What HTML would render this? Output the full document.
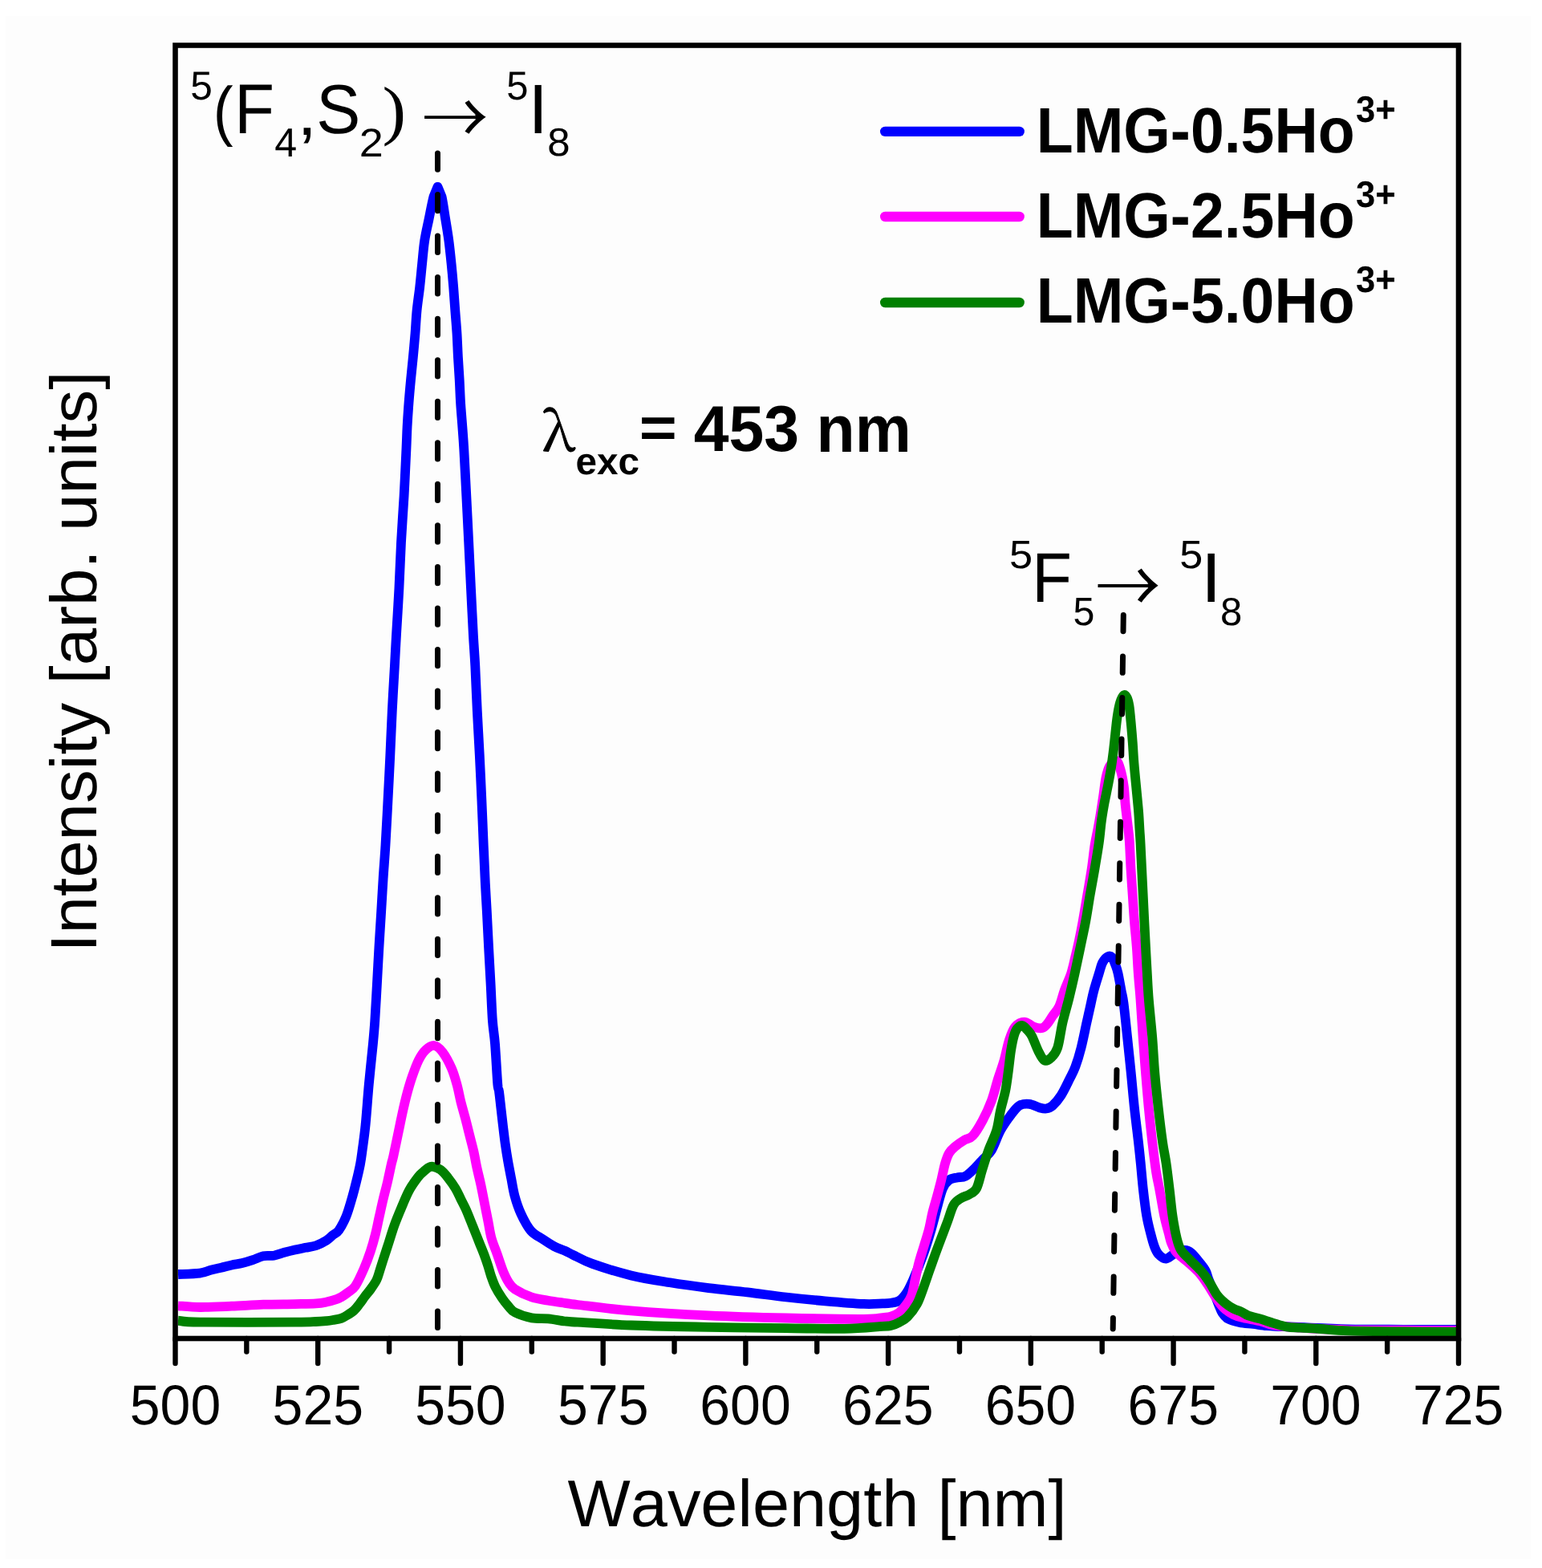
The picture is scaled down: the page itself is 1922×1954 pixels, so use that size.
<!DOCTYPE html>
<html><head><meta charset="utf-8"><title>Luminescence spectra</title><style>html,body{margin:0;padding:0;background:#ffffff;width:1922px;height:1954px;overflow:hidden}</style></head><body>
<svg width="1922" height="1954" viewBox="0 0 1922 1954" style="display:block;font-kerning:none;text-rendering:geometricPrecision"><rect x="0" y="0" width="1922" height="1954" fill="#ffffff"/>
<rect x="7" y="20" width="1901" height="1923" fill="#fdfdfd"/>
<defs><clipPath id="pa"><rect x="222" y="60" width="1593" height="1605"/></clipPath></defs>
<g clip-path="url(#pa)" fill="none" stroke-width="11.8" stroke-linejoin="round" stroke-linecap="butt">
<path stroke="#0000ff" d="M222 1588 C226.5 1587.77 242.25 1587.48 249 1586.6 C255.75 1585.72 258.05 1583.83 262.5 1582.7 C266.95 1581.57 271.32 1580.83 275.7 1579.8 C280.08 1578.77 284.43 1577.45 288.8 1576.5 C293.17 1575.55 297.53 1575.15 301.9 1574.1 C306.27 1573.05 310.62 1571.67 315 1570.2 C319.38 1568.73 323.82 1566.22 328.2 1565.3 C332.58 1564.38 336.93 1565.45 341.3 1564.7 C345.67 1563.95 350.02 1562 354.4 1560.8 C358.78 1559.6 363.22 1558.5 367.6 1557.5 C371.98 1556.5 376.33 1555.68 380.7 1554.8 C385.07 1553.92 389.42 1553.72 393.8 1552.2 C398.18 1550.68 403.47 1547.9 407 1545.7 C410.53 1543.5 412.47 1541.07 415 1539 C417.53 1536.93 419.47 1537.13 422.2 1533.3 C424.93 1529.47 428.7 1522.52 431.4 1516 C434.1 1509.48 436.28 1501.45 438.4 1494.2 C440.52 1486.95 442.33 1479.73 444.1 1472.5 C445.87 1465.27 447.72 1457.55 449 1450.8 C450.28 1444.05 450.7 1440.18 451.8 1432 C452.9 1423.82 454.27 1415.15 455.6 1401.7 C456.93 1388.25 458.25 1368.12 459.8 1351.3 C461.35 1334.48 463.65 1314.05 464.9 1300.8 C466.15 1287.55 466.47 1284.2 467.3 1271.8 C468.13 1259.4 469.05 1241.55 469.9 1226.4 C470.75 1211.25 471.52 1196.05 472.4 1180.9 C473.28 1165.75 474.33 1149.82 475.2 1135.5 C476.07 1121.18 476.72 1108.75 477.6 1095 C478.48 1081.25 479.52 1069.28 480.5 1053 C481.48 1036.72 482.53 1015.88 483.5 997.3 C484.47 978.72 485.42 960.08 486.3 941.5 C487.18 922.92 487.87 904.38 488.8 885.8 C489.73 867.22 491.03 845.73 491.9 830 C492.77 814.27 493.08 807.48 494 791.4 C494.92 775.32 496.4 752.78 497.4 733.5 C498.4 714.22 498.97 694.98 500 675.7 C501.03 656.42 502.53 637.05 503.6 617.8 C504.67 598.55 505.73 574.62 506.4 560.2 C507.07 545.78 507.08 540.93 507.6 531.3 C508.12 521.67 508.77 512.03 509.5 502.4 C510.23 492.77 511.1 483.13 512 473.5 C512.9 463.87 513.98 454.25 514.9 444.6 C515.82 434.95 516.72 425.25 517.5 415.6 C518.28 405.95 518.65 396.33 519.6 386.7 C520.55 377.07 522.12 367.43 523.2 357.8 C524.28 348.17 525.1 338.53 526.1 328.9 C527.1 319.27 527.78 309.32 529.2 300 C530.62 290.68 532.72 282.17 534.6 273 C536.48 263.83 538.68 251.7 540.5 245 L545.5 232.8 L550.5 245 C552.12 251.7 553.72 263.83 555.2 273 C556.68 282.17 558.17 290.68 559.4 300 C560.63 309.32 561.63 319.27 562.6 328.9 C563.57 338.53 564.42 348.17 565.2 357.8 C565.98 367.43 566.58 377.07 567.3 386.7 C568.02 396.33 568.9 405.95 569.5 415.6 C570.1 425.25 570.37 434.95 570.9 444.6 C571.43 454.25 572.17 463.87 572.7 473.5 C573.23 483.13 573.5 492.77 574.1 502.4 C574.7 512.03 575.6 521.67 576.3 531.3 C577 540.93 577.47 545.78 578.3 560.2 C579.13 574.62 580.32 598.55 581.3 617.8 C582.28 637.05 583.25 656.42 584.2 675.7 C585.15 694.98 586.05 714.22 587 733.5 C587.95 752.78 589.02 775.32 589.9 791.4 C590.78 807.48 591.48 814.27 592.3 830 C593.12 845.73 593.88 867.22 594.8 885.8 C595.72 904.38 596.87 922.92 597.8 941.5 C598.73 960.08 599.58 978.72 600.4 997.3 C601.22 1015.88 601.97 1035.9 602.7 1053 C603.43 1070.1 604.12 1086.15 604.8 1099.9 C605.48 1113.65 606.08 1122 606.8 1135.5 C607.52 1149 608.3 1165.75 609.1 1180.9 C609.9 1196.05 610.8 1211.25 611.6 1226.4 C612.4 1241.55 613 1259.4 613.9 1271.8 C614.8 1284.2 615.93 1287.55 617 1300.8 C618.07 1314.05 619.47 1341.43 620.3 1351.3 C621.13 1361.17 621.3 1354.93 622 1360 C622.7 1365.07 623.67 1374.47 624.5 1381.7 C625.33 1388.93 626.13 1396.17 627 1403.4 C627.87 1410.63 628.68 1417.87 629.7 1425.1 C630.72 1432.33 631.85 1439.57 633.1 1446.8 C634.35 1454.03 635.8 1461.27 637.2 1468.5 C638.6 1475.73 639.52 1482.97 641.5 1490.2 C643.48 1497.43 645.75 1504.67 649.1 1511.9 C652.45 1519.13 656.98 1528.18 661.6 1533.6 C666.22 1539.02 671.92 1541.12 676.8 1544.4 C681.68 1547.68 686.37 1550.92 690.9 1553.3 C695.43 1555.68 700.1 1556.95 704 1558.7 C707.9 1560.45 708.58 1561.1 714.3 1563.8 C720.02 1566.5 726.25 1570.63 738.3 1574.9 C750.35 1579.17 770.48 1585.5 786.6 1589.4 C802.72 1593.3 818.88 1595.68 835 1598.3 C851.12 1600.92 867.2 1603.08 883.3 1605.1 C899.4 1607.12 915.5 1608.5 931.6 1610.4 C947.7 1612.3 963.8 1614.68 979.9 1616.5 C996 1618.32 1012.08 1619.9 1028.2 1621.3 C1044.32 1622.7 1064.63 1624.38 1076.6 1624.9 C1088.57 1625.42 1094.38 1624.6 1100 1624.4 C1105.62 1624.2 1106.85 1624.27 1110.3 1623.7 C1113.75 1623.13 1117.42 1623.12 1120.7 1621 C1123.98 1618.88 1127.05 1615.45 1130 1611 C1132.95 1606.55 1134.93 1602.25 1138.4 1594.3 C1141.87 1586.35 1147.08 1573.63 1150.8 1563.3 C1154.52 1552.97 1157.67 1542.63 1160.7 1532.3 C1163.73 1521.97 1166.58 1509.9 1169 1501.3 C1171.42 1492.7 1172.87 1485.83 1175.2 1480.7 C1177.53 1475.57 1180.03 1472.72 1183 1470.5 C1185.97 1468.28 1189.62 1468.2 1193 1467.4 C1196.38 1466.6 1199.67 1467.62 1203.3 1465.7 C1206.93 1463.78 1211.18 1459.35 1214.8 1455.9 C1218.42 1452.45 1221.48 1448.73 1225 1445 C1228.52 1441.27 1232.23 1439.53 1235.9 1433.5 C1239.57 1427.47 1243.08 1416.02 1247 1408.8 C1250.92 1401.58 1255.47 1395.37 1259.4 1390.2 C1263.33 1385.03 1266.67 1380.18 1270.6 1377.8 C1274.53 1375.42 1278.87 1375.5 1283 1375.9 C1287.13 1376.3 1291.9 1379.27 1295.4 1380.2 C1298.9 1381.13 1301.27 1381.87 1304 1381.5 C1306.73 1381.13 1308.7 1380.75 1311.8 1378 C1314.9 1375.25 1319.02 1370.6 1322.6 1365 C1326.18 1359.4 1330.33 1350.35 1333.3 1344.4 C1336.27 1338.45 1338.02 1335.77 1340.4 1329.3 C1342.78 1322.83 1345.27 1314.72 1347.6 1305.6 C1349.93 1296.48 1352.58 1282.83 1354.4 1274.6 C1356.22 1266.37 1357 1262.88 1358.5 1256.2 C1360 1249.52 1361.5 1241.73 1363.4 1234.5 C1365.3 1227.27 1368.13 1218.55 1369.9 1212.8 C1371.67 1207.05 1372.32 1203.38 1374 1200 C1375.68 1196.62 1378 1193.67 1380 1192.5 C1382 1191.33 1384.25 1191.25 1386 1193 C1387.75 1194.75 1389.25 1199.7 1390.5 1203 C1391.75 1206.3 1392.32 1207.55 1393.5 1212.8 C1394.68 1218.05 1396.43 1228.3 1397.6 1234.5 C1398.77 1240.7 1399.23 1240.18 1400.5 1250 C1401.77 1259.82 1403.67 1278.95 1405.2 1293.4 C1406.73 1307.85 1408.25 1322.25 1409.7 1336.7 C1411.15 1351.15 1412.35 1365.63 1413.9 1380.1 C1415.45 1394.57 1417.68 1411.85 1419 1423.5 C1420.32 1435.15 1420.82 1440.17 1421.8 1450 C1422.78 1459.83 1423.67 1471.65 1424.9 1482.5 C1426.13 1493.35 1427.67 1506.05 1429.2 1515.1 C1430.73 1524.15 1432.5 1530.47 1434.1 1536.8 C1435.7 1543.13 1437.15 1548.73 1438.8 1553.1 C1440.45 1557.47 1441.57 1560.42 1444 1563 C1446.43 1565.58 1449.9 1568.85 1453.4 1568.6 C1456.9 1568.35 1461.08 1563.27 1465 1561.5 C1468.92 1559.73 1473.57 1558 1476.9 1558 C1480.23 1558 1481.78 1558.75 1485 1561.5 C1488.22 1564.25 1493.22 1570.75 1496.2 1574.5 C1499.18 1578.25 1501.27 1580.92 1502.9 1584 C1504.53 1587.08 1504.82 1589.83 1506 1593 C1507.18 1596.17 1508.58 1599.5 1510 1603 C1511.42 1606.5 1513 1610.17 1514.5 1614 C1516 1617.83 1517.5 1622.33 1519 1626 C1520.5 1629.67 1521.67 1633.17 1523.5 1636 C1525.33 1638.83 1526.42 1641 1530 1643 C1533.58 1645 1539.67 1646.83 1545 1648 C1550.33 1649.17 1556.37 1649.3 1562 1650 C1567.63 1650.7 1573.2 1651.7 1578.8 1652.2 C1584.4 1652.7 1588.73 1652.7 1595.6 1653 C1602.47 1653.3 1605.93 1653.45 1620 1654 C1634.07 1654.55 1658.33 1655.83 1680 1656.3 C1701.67 1656.77 1727.5 1656.68 1750 1656.8 C1772.5 1656.92 1804.17 1656.97 1815 1657"/>
<path stroke="#ff00ff" d="M222 1627.3 C226.57 1627.58 238.27 1628.93 249.4 1629 C260.53 1629.07 275.67 1628.25 288.8 1627.7 C301.93 1627.15 315.07 1626.13 328.2 1625.7 C341.33 1625.27 356.67 1625.32 367.6 1625.1 C378.53 1624.88 387.23 1624.83 393.8 1624.4 C400.37 1623.97 402.63 1623.43 407 1622.5 C411.37 1621.57 416.93 1619.83 420 1618.8 C423.07 1617.77 423.2 1617.6 425.4 1616.3 C427.6 1615 430.3 1613.27 433.2 1611 C436.1 1608.73 439.4 1607.7 442.8 1602.7 C446.2 1597.7 450.43 1588.23 453.6 1581 C456.77 1573.77 459.4 1566.52 461.8 1559.3 C464.2 1552.08 466.17 1544.93 468 1537.7 C469.83 1530.47 471.18 1523.15 472.8 1515.9 C474.42 1508.65 475.98 1501.43 477.7 1494.2 C479.42 1486.97 481.42 1479.73 483.1 1472.5 C484.78 1465.27 486.57 1456.22 487.8 1450.8 C489.03 1445.38 488.72 1448.18 490.5 1440 C492.28 1431.82 496.47 1411.37 498.5 1401.7 C500.53 1392.03 501.22 1388.52 502.7 1382 C504.18 1375.48 505.58 1369.27 507.4 1362.6 C509.22 1355.93 511.22 1348.88 513.6 1342 C515.98 1335.12 518.88 1326.88 521.7 1321.3 C524.52 1315.72 527.23 1311.55 530.5 1308.5 C533.77 1305.45 537.78 1302.58 541.3 1303 C544.82 1303.42 547.98 1306.23 551.6 1311 C555.22 1315.77 559.98 1324.72 563 1331.6 C566.02 1338.48 567.8 1345.4 569.7 1352.3 C571.6 1359.2 572.68 1366.12 574.4 1373 C576.12 1379.88 578.2 1386.72 580 1393.6 C581.8 1400.48 583.47 1407.42 585.2 1414.3 C586.93 1421.18 588.85 1428.02 590.4 1434.9 C591.95 1441.78 593.02 1448.72 594.5 1455.6 C595.98 1462.48 597.67 1468.58 599.3 1476.2 C600.93 1483.82 602.78 1493.67 604.3 1501.3 C605.82 1508.93 607.03 1515.1 608.4 1522 C609.77 1528.9 610.6 1535.82 612.5 1542.7 C614.4 1549.58 617.38 1556.42 619.8 1563.3 C622.22 1570.18 624.63 1578.22 627 1584 C629.37 1589.78 631.5 1594.22 634 1598 C636.5 1601.78 637.22 1603.62 642 1606.7 C646.78 1609.78 655.82 1614.17 662.7 1616.5 C669.58 1618.83 676.42 1619.48 683.3 1620.7 C690.18 1621.92 697.88 1622.92 704 1623.8 C710.12 1624.68 706.23 1624.4 720 1626 C733.77 1627.6 759.38 1631.17 786.6 1633.4 C813.82 1635.63 851.08 1637.88 883.3 1639.4 C915.52 1640.92 947.68 1641.77 979.9 1642.5 C1012.12 1643.23 1056.58 1643.88 1076.6 1643.8 C1096.62 1643.72 1094.38 1642.52 1100 1642 C1105.62 1641.48 1106.85 1641.77 1110.3 1640.7 C1113.75 1639.63 1117.58 1637.97 1120.7 1635.6 C1123.82 1633.23 1126.43 1629.95 1129 1626.5 C1131.57 1623.05 1134.13 1620.27 1136.1 1614.9 C1138.07 1609.53 1139.25 1601.18 1140.8 1594.3 C1142.35 1587.42 1143.6 1580.48 1145.4 1573.6 C1147.2 1566.72 1149.53 1559.88 1151.6 1553 C1153.67 1546.12 1156.03 1539.2 1157.8 1532.3 C1159.57 1525.4 1160.52 1518.48 1162.2 1511.6 C1163.88 1504.72 1166.05 1497.88 1167.9 1491 C1169.75 1484.12 1171.62 1477.13 1173.3 1470.3 C1174.98 1463.47 1176.38 1455.55 1178 1450 C1179.62 1444.45 1181 1440.47 1183 1437 C1185 1433.53 1186.77 1431.95 1190 1429.2 C1193.23 1426.45 1198.68 1422.77 1202.4 1420.5 C1206.12 1418.23 1208.58 1419.62 1212.3 1415.6 C1216.02 1411.58 1220.77 1403.73 1224.7 1396.4 C1228.63 1389.07 1232.8 1379.87 1235.9 1371.6 C1239 1363.33 1240.72 1355.07 1243.3 1346.8 C1245.88 1338.53 1249.02 1330.27 1251.4 1322 C1253.78 1313.73 1255.33 1304.2 1257.6 1297.2 C1259.87 1290.2 1261.8 1283.93 1265 1280 C1268.2 1276.07 1272.77 1273.63 1276.8 1273.6 C1280.83 1273.57 1285.48 1278.55 1289.2 1279.8 C1292.92 1281.05 1296.42 1281.73 1299.1 1281.1 C1301.78 1280.47 1303.15 1278.52 1305.3 1276 C1307.45 1273.48 1309.5 1269.68 1312 1266 C1314.5 1262.32 1317.83 1259.23 1320.3 1253.9 C1322.77 1248.57 1324.32 1240.87 1326.8 1234 C1329.28 1227.13 1332.93 1219.7 1335.2 1212.7 C1337.47 1205.7 1338.77 1198.78 1340.4 1192 C1342.03 1185.22 1343.48 1179.17 1345 1172 C1346.52 1164.83 1347.78 1158.48 1349.5 1149 C1351.22 1139.52 1353.43 1126.17 1355.3 1115.1 C1357.17 1104.03 1359.15 1092.95 1360.7 1082.6 C1362.25 1072.25 1363.35 1061.03 1364.6 1053 C1365.85 1044.97 1366.97 1041.12 1368.2 1034.4 C1369.43 1027.68 1370.82 1019.93 1372 1012.7 C1373.18 1005.47 1374.22 998.23 1375.3 991 C1376.38 983.77 1377.22 975.3 1378.5 969.3 C1379.78 963.3 1380.92 958.62 1383 955 C1385.08 951.38 1388.77 947.02 1391 947.6 C1393.23 948.18 1394.77 953.07 1396.4 958.5 C1398.03 963.93 1399.77 972.97 1400.8 980.2 C1401.83 987.43 1401.88 994.67 1402.6 1001.9 C1403.32 1009.13 1404.25 1016.08 1405.1 1023.6 C1405.95 1031.12 1406.97 1037.17 1407.7 1047 C1408.43 1056.83 1408.83 1071.25 1409.5 1082.6 C1410.17 1093.95 1410.97 1104.25 1411.7 1115.1 C1412.43 1125.95 1413.05 1136.85 1413.9 1147.7 C1414.75 1158.55 1415.98 1169.35 1416.8 1180.2 C1417.62 1191.05 1418.02 1201.95 1418.8 1212.8 C1419.58 1223.65 1420.52 1231.87 1421.5 1245.3 C1422.48 1258.73 1423.62 1278.17 1424.7 1293.4 C1425.78 1308.63 1426.83 1322.25 1428 1336.7 C1429.17 1351.15 1430.32 1365.63 1431.7 1380.1 C1433.08 1394.57 1434.75 1410.18 1436.3 1423.5 C1437.85 1436.82 1439.5 1450.17 1441 1460 C1442.5 1469.83 1443.6 1473.32 1445.3 1482.5 C1447 1491.68 1449.3 1506.05 1451.2 1515.1 C1453.1 1524.15 1455.23 1531.15 1456.7 1536.8 C1458.17 1542.45 1458.62 1545.3 1460 1549 C1461.38 1552.7 1463.17 1556.33 1465 1559 C1466.83 1561.67 1468.17 1562.5 1471 1565 C1473.83 1567.5 1477.92 1570.33 1482 1574 C1486.08 1577.67 1491.58 1582.5 1495.5 1587 C1499.42 1591.5 1502.17 1596 1505.5 1601 C1508.83 1606 1512.25 1612.25 1515.5 1617 C1518.75 1621.75 1521.37 1625.95 1525 1629.5 C1528.63 1633.05 1533.13 1636.17 1537.3 1638.3 C1541.47 1640.43 1544.48 1640.97 1550 1642.3 C1555.52 1643.63 1564.2 1644.8 1570.4 1646.3 C1576.6 1647.8 1581.6 1650.12 1587.2 1651.3 C1592.8 1652.48 1597.03 1652.77 1604 1653.4 C1610.97 1654.03 1616.33 1654.45 1629 1655.1 C1641.67 1655.75 1659.83 1656.87 1680 1657.3 C1700.17 1657.73 1727.5 1657.58 1750 1657.7 C1772.5 1657.82 1804.17 1657.95 1815 1658"/>
<path stroke="#008000" d="M222 1645.7 C226.57 1646.03 225.13 1647.37 249.4 1647.7 C273.67 1648.03 343.53 1647.82 367.6 1647.7 C391.67 1647.58 387.23 1647.27 393.8 1647 C400.37 1646.73 403.47 1646.43 407 1646.1 C410.53 1645.77 411.93 1645.53 415 1645 C418.07 1644.47 422.32 1643.98 425.4 1642.9 C428.48 1641.82 430.78 1640.22 433.5 1638.5 C436.22 1636.78 439.28 1634.85 441.7 1632.6 C444.12 1630.35 445.83 1627.8 448 1625 C450.17 1622.2 452.37 1618.88 454.7 1615.8 C457.03 1612.72 459.55 1609.97 462 1606.5 C464.45 1603.03 467.48 1598.92 469.4 1595 C471.32 1591.08 472.15 1587.13 473.5 1583 C474.85 1578.87 475.65 1575.95 477.5 1570.2 C479.35 1564.45 482.25 1555.73 484.6 1548.5 C486.95 1541.27 488.98 1534.03 491.6 1526.8 C494.22 1519.57 497.23 1512.33 500.3 1505.1 C503.37 1497.87 506.57 1489.73 510 1483.4 C513.43 1477.07 517.9 1471 520.9 1467.1 C523.9 1463.2 525.83 1461.98 528 1460 C530.17 1458.02 532.03 1456.25 533.9 1455.2 C535.77 1454.15 536.65 1453.27 539.2 1453.7 C541.75 1454.13 546.05 1455.53 549.2 1457.8 C552.35 1460.07 555.02 1463.43 558.1 1467.3 C561.18 1471.17 564.97 1476.45 567.7 1481 C570.43 1485.55 572.23 1490.05 574.5 1494.6 C576.77 1499.15 579.25 1503.75 581.3 1508.3 C583.35 1512.85 584.97 1517.35 586.8 1521.9 C588.63 1526.45 590.48 1531.05 592.3 1535.6 C594.12 1540.15 595.88 1544.65 597.7 1549.2 C599.52 1553.75 601.48 1558.33 603.2 1562.9 C604.92 1567.47 606.52 1572.05 608 1576.6 C609.48 1581.15 610.52 1585.65 612.1 1590.2 C613.68 1594.75 615.23 1599.35 617.5 1603.9 C619.77 1608.45 623.03 1613.57 625.7 1617.5 C628.37 1621.43 630.78 1624.48 633.5 1627.5 C636.22 1630.52 637.13 1633.12 642 1635.6 C646.87 1638.08 655.82 1641.1 662.7 1642.4 C669.58 1643.7 676.42 1642.72 683.3 1643.4 C690.18 1644.08 697.88 1645.78 704 1646.5 C710.12 1647.22 706.23 1646.87 720 1647.7 C733.77 1648.53 759.38 1650.47 786.6 1651.5 C813.82 1652.53 851.08 1653.3 883.3 1653.9 C915.52 1654.5 951.72 1654.78 979.9 1655.1 C1008.08 1655.42 1032.38 1656.18 1052.4 1655.8 C1072.42 1655.42 1090.35 1653.42 1100 1652.8 C1109.65 1652.18 1106.85 1652.9 1110.3 1652.1 C1113.75 1651.3 1117.25 1649.82 1120.7 1648 C1124.15 1646.18 1127.3 1645 1131 1641.2 C1134.7 1637.4 1139.55 1631.3 1142.9 1625.2 C1146.25 1619.1 1148.53 1611.48 1151.1 1604.6 C1153.67 1597.72 1155.88 1590.78 1158.3 1583.9 C1160.72 1577.02 1163.1 1570.18 1165.6 1563.3 C1168.1 1556.42 1170.72 1549.48 1173.3 1542.6 C1175.88 1535.72 1178.52 1528.88 1181.1 1522 C1183.68 1515.12 1185.97 1506.13 1188.8 1501.3 C1191.63 1496.47 1194.83 1495.15 1198.1 1493 C1201.37 1490.85 1205.2 1490.45 1208.4 1488.4 C1211.6 1486.35 1214.68 1485.72 1217.3 1480.7 C1219.92 1475.68 1221.63 1466.17 1224.1 1458.3 C1226.57 1450.43 1229.1 1441.75 1232.1 1433.5 C1235.1 1425.25 1239.62 1417.05 1242.1 1408.8 C1244.58 1400.55 1245.15 1392.27 1247 1384 C1248.85 1375.73 1251.55 1367.47 1253.2 1359.2 C1254.85 1350.93 1255.77 1342.67 1256.9 1334.4 C1258.03 1326.13 1258.85 1316.83 1260 1309.6 C1261.15 1302.37 1262.47 1295.68 1263.8 1291 C1265.13 1286.32 1266.25 1283.67 1268 1281.5 C1269.75 1279.33 1272.3 1277.75 1274.3 1278 C1276.3 1278.25 1278.03 1280.83 1280 1283 C1281.97 1285.17 1283.75 1286.57 1286.1 1291 C1288.45 1295.43 1291.52 1304.53 1294.1 1309.6 C1296.68 1314.67 1298.95 1319.95 1301.6 1321.4 C1304.25 1322.85 1307.23 1320.93 1310 1318.3 C1312.77 1315.67 1315.8 1312.88 1318.2 1305.6 C1320.6 1298.32 1322.05 1284.78 1324.4 1274.6 C1326.75 1264.42 1329.75 1254.82 1332.3 1244.5 C1334.85 1234.18 1337.32 1223.42 1339.7 1212.7 C1342.08 1201.98 1344.33 1191.03 1346.6 1180.2 C1348.87 1169.37 1351.28 1158.55 1353.3 1147.7 C1355.32 1136.85 1356.83 1125.95 1358.7 1115.1 C1360.57 1104.25 1362.65 1093.45 1364.5 1082.6 C1366.35 1071.75 1368.42 1059.83 1369.8 1050 C1371.18 1040.17 1371.72 1031.62 1372.8 1023.6 C1373.88 1015.58 1374.98 1009.13 1376.3 1001.9 C1377.62 994.67 1379.3 987.43 1380.7 980.2 C1382.1 972.97 1383.53 965.73 1384.7 958.5 C1385.87 951.27 1386.8 944.03 1387.7 936.8 C1388.6 929.57 1389.28 922.33 1390.1 915.1 C1390.92 907.87 1391.62 899.92 1392.6 893.4 C1393.58 886.88 1394.63 880.52 1396 876 C1397.37 871.48 1399.33 867.38 1400.8 866.3 C1402.27 865.22 1403.68 867.22 1404.8 869.5 C1405.92 871.78 1406.63 874.22 1407.5 880 C1408.37 885.78 1409.28 896.55 1410 904.2 C1410.72 911.85 1411.27 918.67 1411.8 925.9 C1412.33 933.13 1412.65 940.37 1413.2 947.6 C1413.75 954.83 1414.43 962.07 1415.1 969.3 C1415.77 976.53 1416.52 983.77 1417.2 991 C1417.88 998.23 1418.65 1005.47 1419.2 1012.7 C1419.75 1019.93 1420.12 1028.18 1420.5 1034.4 C1420.88 1040.62 1421.07 1041.97 1421.5 1050 C1421.93 1058.03 1422.57 1071.75 1423.1 1082.6 C1423.63 1093.45 1424.17 1104.25 1424.7 1115.1 C1425.23 1125.95 1425.75 1136.85 1426.3 1147.7 C1426.85 1158.55 1427.42 1169.35 1428 1180.2 C1428.58 1191.05 1429.17 1201.95 1429.8 1212.8 C1430.43 1223.65 1430.72 1231.87 1431.8 1245.3 C1432.88 1258.73 1435.05 1278.17 1436.3 1293.4 C1437.55 1308.63 1438.07 1322.25 1439.3 1336.7 C1440.53 1351.15 1442.07 1365.63 1443.7 1380.1 C1445.33 1394.57 1447.45 1411.85 1449.1 1423.5 C1450.75 1435.15 1452.17 1440.17 1453.6 1450 C1455.03 1459.83 1456.38 1471.65 1457.7 1482.5 C1459.02 1493.35 1459.98 1504.95 1461.5 1515.1 C1463.02 1525.25 1465.02 1536.22 1466.8 1543.4 C1468.58 1550.58 1469.4 1553.72 1472.2 1558.2 C1475 1562.68 1479.47 1566.05 1483.6 1570.3 C1487.73 1574.55 1493.08 1579.22 1497 1583.7 C1500.92 1588.18 1503.73 1592.15 1507.1 1597.2 C1510.47 1602.25 1513.85 1609.53 1517.2 1614 C1520.55 1618.47 1523.85 1621.22 1527.2 1624 C1530.55 1626.78 1533.93 1628.9 1537.3 1630.7 C1540.67 1632.5 1544.28 1633.33 1547.4 1634.8 C1550.52 1636.27 1552.17 1638.07 1556 1639.5 C1559.83 1640.93 1565.2 1641.85 1570.4 1643.4 C1575.6 1644.95 1581.6 1647.12 1587.2 1648.8 C1592.8 1650.48 1598.4 1652.52 1604 1653.5 C1609.6 1654.48 1613.8 1654.28 1620.8 1654.7 C1627.8 1655.12 1636.13 1655.4 1646 1656 C1655.87 1656.6 1662.67 1657.72 1680 1658.3 C1697.33 1658.88 1727.5 1659.22 1750 1659.5 C1772.5 1659.78 1804.17 1659.92 1815 1660"/>
</g>
<g stroke="#000" stroke-width="7" stroke-linecap="round" stroke-dasharray="20.3 31.24" fill="none">
<line x1="545.5" y1="191" x2="545.5" y2="1654.5"/>
<line x1="1400.3" y1="766.5" x2="1387.2" y2="1656"/>
</g>
<rect x="218.5" y="56.5" width="1599.5" height="1611.5" fill="none" stroke="#000" stroke-width="6.6"/>
<g stroke="#000" stroke-width="6.4" stroke-linecap="round"><line x1="218.5" y1="1668" x2="218.5" y2="1699"/><line x1="307.36" y1="1668" x2="307.36" y2="1684.5"/><line x1="396.22" y1="1668" x2="396.22" y2="1699"/><line x1="485.08" y1="1668" x2="485.08" y2="1684.5"/><line x1="573.94" y1="1668" x2="573.94" y2="1699"/><line x1="662.81" y1="1668" x2="662.81" y2="1684.5"/><line x1="751.67" y1="1668" x2="751.67" y2="1699"/><line x1="840.53" y1="1668" x2="840.53" y2="1684.5"/><line x1="929.39" y1="1668" x2="929.39" y2="1699"/><line x1="1018.25" y1="1668" x2="1018.25" y2="1684.5"/><line x1="1107.11" y1="1668" x2="1107.11" y2="1699"/><line x1="1195.97" y1="1668" x2="1195.97" y2="1684.5"/><line x1="1284.83" y1="1668" x2="1284.83" y2="1699"/><line x1="1373.69" y1="1668" x2="1373.69" y2="1684.5"/><line x1="1462.56" y1="1668" x2="1462.56" y2="1699"/><line x1="1551.42" y1="1668" x2="1551.42" y2="1684.5"/><line x1="1640.28" y1="1668" x2="1640.28" y2="1699"/><line x1="1729.14" y1="1668" x2="1729.14" y2="1684.5"/><line x1="1818" y1="1668" x2="1818" y2="1699"/></g>
<text transform="translate(161.74 1775.02) scale(1.0000 1.0302)" font-family='"Liberation Sans", Arial, sans-serif' font-size="68" font-weight="normal">500</text>
<text transform="translate(339.56 1775.02) scale(1.0000 1.0302)" font-family='"Liberation Sans", Arial, sans-serif' font-size="68" font-weight="normal">525</text>
<text transform="translate(517.18 1775.02) scale(1.0000 1.0302)" font-family='"Liberation Sans", Arial, sans-serif' font-size="68" font-weight="normal">550</text>
<text transform="translate(695.01 1775.01) scale(1.0000 1.0454)" font-family='"Liberation Sans", Arial, sans-serif' font-size="68" font-weight="normal">575</text>
<text transform="translate(872.26 1775.02) scale(1.0000 1.0302)" font-family='"Liberation Sans", Arial, sans-serif' font-size="68" font-weight="normal">600</text>
<text transform="translate(1050.08 1775.02) scale(1.0000 1.0302)" font-family='"Liberation Sans", Arial, sans-serif' font-size="68" font-weight="normal">625</text>
<text transform="translate(1227.71 1775.02) scale(1.0000 1.0302)" font-family='"Liberation Sans", Arial, sans-serif' font-size="68" font-weight="normal">650</text>
<text transform="translate(1405.53 1775.02) scale(1.0000 1.0302)" font-family='"Liberation Sans", Arial, sans-serif' font-size="68" font-weight="normal">675</text>
<text transform="translate(1583.14 1775.02) scale(1.0000 1.0302)" font-family='"Liberation Sans", Arial, sans-serif' font-size="68" font-weight="normal">700</text>
<text transform="translate(1760.96 1775.02) scale(1.0000 1.0302)" font-family='"Liberation Sans", Arial, sans-serif' font-size="68" font-weight="normal">725</text>
<text transform="translate(707.54 1901.66) scale(1.0000 0.9962)" font-family='"Liberation Sans", Arial, sans-serif' font-size="82.92" font-weight="normal">Wavelength [nm]</text>
<text transform="translate(120.08 1186.71) rotate(-90) scale(1 0.9760)" font-family='"Liberation Sans", Arial, sans-serif' font-size="83.54">Intensity [arb. units]</text>
<line x1="1103.2" y1="163.9" x2="1270.7" y2="163.9" stroke="#0000ff" stroke-width="12.4" stroke-linecap="round"/>
<text transform="translate(1291.77 189.9) scale(1.0000 1.0629)" font-family='"Liberation Sans", Arial, sans-serif' font-size="75.21" font-weight="bold">LMG-0.5Ho</text>
<text transform="translate(1690.1 152.38) scale(1.0000 1.0645)" font-family='"Liberation Sans", Arial, sans-serif' font-size="43.56" font-weight="bold">3+</text>
<line x1="1103.2" y1="270" x2="1270.7" y2="270" stroke="#ff00ff" stroke-width="12.4" stroke-linecap="round"/>
<text transform="translate(1291.77 295.6) scale(1.0000 1.0629)" font-family='"Liberation Sans", Arial, sans-serif' font-size="75.21" font-weight="bold">LMG-2.5Ho</text>
<text transform="translate(1690.1 258.08) scale(1.0000 1.0645)" font-family='"Liberation Sans", Arial, sans-serif' font-size="43.56" font-weight="bold">3+</text>
<line x1="1103.2" y1="377" x2="1270.7" y2="377" stroke="#008000" stroke-width="12.4" stroke-linecap="round"/>
<text transform="translate(1291.77 401.6) scale(1.0000 1.0629)" font-family='"Liberation Sans", Arial, sans-serif' font-size="75.21" font-weight="bold">LMG-5.0Ho</text>
<text transform="translate(1690.1 364.08) scale(1.0000 1.0645)" font-family='"Liberation Sans", Arial, sans-serif' font-size="43.56" font-weight="bold">3+</text>
<defs><clipPath id="ca1"><path clip-rule="evenodd" d="M520 115H615V175H520Z M521 140 L588.6 140 L593.2 144.2 L521 144.2Z M521 147.9 L593.2 147.9 L588.6 152 L521 152Z"/></clipPath><clipPath id="ca2"><path clip-rule="evenodd" d="M1360 700H1452V760H1360Z M1361 724 L1427.2 724 L1431.4 728 L1361 728Z M1361 731.9 L1431.4 731.9 L1427.2 736 L1361 736Z"/></clipPath></defs>
<text transform="translate(237.32 124.31) scale(1.0000 1.0120)" font-family='"Liberation Sans", Arial, sans-serif' font-size="49.57" font-weight="normal">5</text>
<text transform="translate(265.67 165.63) scale(1.0000 1.1039)" font-family='"Liberation Sans", Arial, sans-serif' font-size="74.68" font-weight="normal">(</text>
<text transform="translate(292.32 166.3) scale(1.0000 1.0781)" font-family='"Liberation Sans", Arial, sans-serif' font-size="81.43" font-weight="normal">F</text>
<text transform="translate(342.15 194.7) scale(1.0000 1.0075)" font-family='"Liberation Sans", Arial, sans-serif' font-size="50.21" font-weight="normal">4</text>
<text transform="translate(370.14 167.73) scale(1.0000 0.9212)" font-family='"Liberation Sans", Arial, sans-serif' font-size="89.66" font-weight="normal">,</text>
<text transform="translate(394.25 165.85) scale(1.0000 1.0510)" font-family='"Liberation Sans", Arial, sans-serif' font-size="82.51" font-weight="normal">S</text>
<text transform="translate(447.78 194.7) scale(1.0000 0.9230)" font-family='"Liberation Sans", Arial, sans-serif' font-size="54" font-weight="normal">2</text>
<text transform="translate(476.44 164.93) scale(1.0000 0.9243)" font-family='"Liberation Serif", "Times New Roman", serif' font-size="88.77" font-weight="normal">)</text>
<g clip-path="url(#ca1)"><text transform="translate(525.69 180.12) scale(1.0000 1.0858)" font-family='"Noto Sans CJK SC", "Noto Sans CJK JP", sans-serif' font-size="82.81" font-weight="normal">→</text></g>
<text transform="translate(631.24 124.31) scale(1.0000 1.0251)" font-family='"Liberation Sans", Arial, sans-serif' font-size="48.93" font-weight="normal">5</text>
<text transform="translate(658.49 166) scale(1.0000 0.9935)" font-family='"Liberation Sans", Arial, sans-serif' font-size="87.92" font-weight="normal">I</text>
<text transform="translate(682.19 194.22) scale(1.0000 0.9650)" font-family='"Liberation Sans", Arial, sans-serif' font-size="50.93" font-weight="normal">8</text>
<text transform="translate(1258.11 708.42) scale(1.0000 0.9425)" font-family='"Liberation Sans", Arial, sans-serif' font-size="52.31" font-weight="normal">5</text>
<text transform="translate(1286.32 750.1) scale(1.0000 1.0746)" font-family='"Liberation Sans", Arial, sans-serif' font-size="81.43" font-weight="normal">F</text>
<text transform="translate(1337.57 779.02) scale(1.0000 1.0237)" font-family='"Liberation Sans", Arial, sans-serif' font-size="48.3" font-weight="normal">5</text>
<g clip-path="url(#ca2)"><text transform="translate(1365.35 764.28) scale(1.0000 1.1128)" font-family='"Noto Sans CJK SC", "Noto Sans CJK JP", sans-serif' font-size="81.19" font-weight="normal">→</text></g>
<text transform="translate(1470.31 708.42) scale(1.0000 0.9463)" font-family='"Liberation Sans", Arial, sans-serif' font-size="52.1" font-weight="normal">5</text>
<text transform="translate(1497.09 750.1) scale(1.0000 0.9601)" font-family='"Liberation Sans", Arial, sans-serif' font-size="91.14" font-weight="normal">I</text>
<text transform="translate(1521.07 779.02) scale(1.0000 0.9941)" font-family='"Liberation Sans", Arial, sans-serif' font-size="49.02" font-weight="normal">8</text>
<text stroke="#000" stroke-width="0.9" transform="translate(675.87 562.24) scale(1.0000 0.9524)" font-family='"Noto Serif CJK SC", "Noto Serif CJK JP", serif' font-size="70.74" font-weight="normal">λ</text>
<text transform="translate(717.54 590.54) scale(1.0000 0.9876)" font-family='"Liberation Sans", Arial, sans-serif' font-size="47.68" font-weight="bold">exc</text>
<text transform="translate(796.86 557.14) scale(1.0000 0.8769)" font-family='"Liberation Sans", Arial, sans-serif' font-size="80.56" font-weight="bold">=</text>
<text transform="translate(864.71 562.39) scale(1.0000 1.0260)" font-family='"Liberation Sans", Arial, sans-serif' font-size="78.72" font-weight="bold">453</text>
<text transform="translate(1017.61 563.3) scale(1.0000 1.0487)" font-family='"Liberation Sans", Arial, sans-serif' font-size="78.79" font-weight="bold">nm</text></svg>
</body></html>
